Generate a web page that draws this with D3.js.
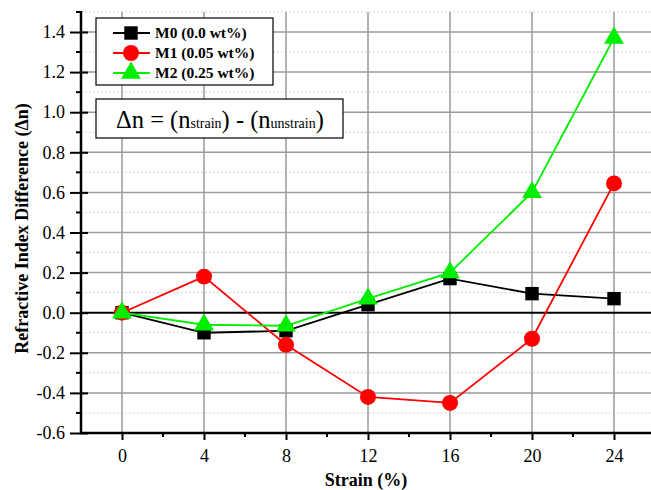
<!DOCTYPE html>
<html lang="en">
<head>
    <meta charset="UTF-8">
    <title>Refractive Index Difference vs Strain</title>
    <style>
        body { margin: 0; background: #fff; }
        svg { display: block; font-family: "Liberation Serif", "Times New Roman", serif; }
        .axis-label { font-size: 18px; font-weight: bold; }
        .legend-text { font-size: 15.5px; font-weight: bold; }
    </style>
</head>
<body>
    <div id="chart"></div>

    <script src="https://d3js.org/d3.v7.min.js"></script>
    <script>
        // Данные
        const strain = [0, 4, 8, 12, 16, 20, 24];
        const m0 = [0.0, -0.10, -0.09, 0.04, 0.17, 0.095, 0.07];
        const m1 = [0.0, 0.18, -0.16, -0.42, -0.45, -0.13, 0.645];
        const m2 = [0.0, -0.06, -0.065, 0.07, 0.20, 0.60, 1.37];
        const seriesNames = ["M0 (0.0 wt%)", "M1 (0.05 wt%)", "M2 (0.25 wt%)"];
        const xTicks = [0, 4, 8, 12, 16, 20, 24];
        const yTicks = [-0.6, -0.4, -0.2, 0.0, 0.2, 0.4, 0.6, 0.8, 1.0, 1.2, 1.4];

        const width = 651, height = 490;
        const left = 81, bottom = 433;

        const x = d3.scaleLinear().domain([-2, 26]).range([left, left + 28 * 20.5]);
        const y = d3.scaleLinear().domain([-0.6, 1.4]).range([bottom, 32]);
        const yTop = y(1.5);

        const svg = d3.select("#chart").append("svg")
            .attr("width", width)
            .attr("height", height);

        // Сетка: второстепенные горизонтальные линии (пунктир)
        const minorY = d3.range(-5, 16, 2).map(v => v / 10);
        svg.append("g").selectAll("line")
            .data(minorY)
            .enter().append("line")
            .attr("x1", left).attr("x2", width)
            .attr("y1", d => y(d)).attr("y2", d => y(d))
            .attr("stroke", "#c8c8c8")
            .attr("stroke-width", 1)
            .attr("stroke-dasharray", "1.5,2.5");

        // Основные линии сетки
        svg.append("g").selectAll("line")
            .data(yTicks.filter(d => d !== 0))
            .enter().append("line")
            .attr("x1", left).attr("x2", width)
            .attr("y1", d => y(d)).attr("y2", d => y(d))
            .attr("stroke", "#9a9a9a")
            .attr("stroke-width", 1.5);

        svg.append("g").selectAll("line")
            .data(xTicks)
            .enter().append("line")
            .attr("x1", d => x(d)).attr("x2", d => x(d))
            .attr("y1", yTop).attr("y2", bottom)
            .attr("stroke", "#9a9a9a")
            .attr("stroke-width", 1.5);

        // Линия нуля
        svg.append("line")
            .attr("x1", left).attr("x2", width)
            .attr("y1", y(0)).attr("y2", y(0))
            .attr("stroke", "#000")
            .attr("stroke-width", 2);

        // Оси
        const xAxis = svg.append("g")
            .attr("transform", `translate(0,${bottom})`)
            .call(d3.axisBottom(x).tickValues(xTicks).tickSize(7).tickPadding(9).tickFormat(d3.format("d")));
        xAxis.select(".domain").remove();
        xAxis.selectAll("line").attr("stroke-width", 2);
        xAxis.selectAll("text")
            .style("font-family", "'Liberation Serif', serif")
            .style("font-size", "18px")
            .style("fill", "#000");

        // Второстепенные деления X
        svg.append("g").selectAll("line")
            .data(d3.range(2, 26, 4))
            .enter().append("line")
            .attr("x1", d => x(d)).attr("x2", d => x(d))
            .attr("y1", bottom).attr("y2", bottom + 4)
            .attr("stroke", "#000").attr("stroke-width", 2);

        const yAxis = svg.append("g")
            .attr("transform", `translate(${left},0)`)
            .call(d3.axisLeft(y).tickValues(yTicks).tickSize(11).tickPadding(5));
        yAxis.select(".domain").remove();
        yAxis.selectAll("line").attr("stroke-width", 2).attr("x2", -11).attr("x1", 7);
        yAxis.selectAll("text")
            .style("font-family", "'Liberation Serif', serif")
            .style("font-size", "18px")
            .style("fill", "#000")
            .text(d => d3.format(".1f")(d).replace("−", "-"));

        // Второстепенные деления Y
        svg.append("g").selectAll("line")
            .data(minorY)
            .enter().append("line")
            .attr("x1", left - 5).attr("x2", left)
            .attr("y1", d => y(d)).attr("y2", d => y(d))
            .attr("stroke", "#000").attr("stroke-width", 2);

        // Линии осей
        svg.append("line")
            .attr("x1", left).attr("x2", left)
            .attr("y1", yTop - 1).attr("y2", bottom + 1)
            .attr("stroke", "#000").attr("stroke-width", 2.5);
        svg.append("line")
            .attr("x1", left).attr("x2", width)
            .attr("y1", bottom).attr("y2", bottom)
            .attr("stroke", "#000").attr("stroke-width", 2.5);

        // Подписи осей
        svg.append("text")
            .attr("class", "axis-label")
            .attr("x", 366).attr("y", 486)
            .attr("text-anchor", "middle")
            .text("Strain (%)");

        svg.append("text")
            .attr("class", "axis-label")
            .attr("transform", `translate(28,${y(0.42)}) rotate(-90)`)
            .attr("text-anchor", "middle")
            .text("Refractive Index Difference (Δn)");

        // Серии
        const series = [
            { name: seriesNames[0], values: m0, color: "#000000", symbol: d3.symbolSquare, size: 180 },
            { name: seriesNames[1], values: m1, color: "#ff0000", symbol: d3.symbolCircle, size: 200 },
            { name: seriesNames[2], values: m2, color: "#00ee00", symbol: d3.symbolTriangle, size: 170 }
        ];

        const line = d3.line()
            .x((d, i) => x(strain[i]))
            .y(d => y(d));

        series.forEach(s => {
            svg.append("path")
                .datum(s.values)
                .attr("fill", "none")
                .attr("stroke", s.color)
                .attr("stroke-width", 1.8)
                .attr("d", line);
            svg.append("g").selectAll("path")
                .data(s.values)
                .enter().append("path")
                .attr("transform", (d, i) => `translate(${x(strain[i])},${y(d)})`)
                .attr("d", d3.symbol().type(s.symbol).size(s.size))
                .attr("fill", s.color);
        });

        // Легенда
        const legend = svg.append("g");
        legend.append("rect")
            .attr("x", 96).attr("y", 18)
            .attr("width", 177).attr("height", 67)
            .attr("fill", "#fff").attr("stroke", "#000").attr("stroke-width", 1.2);

        series.forEach((s, i) => {
            const cy = 33 + i * 20;
            legend.append("line")
                .attr("x1", 113).attr("x2", 150)
                .attr("y1", cy).attr("y2", cy)
                .attr("stroke", s.color).attr("stroke-width", 1.8);
            legend.append("path")
                .attr("transform", `translate(131,${cy})`)
                .attr("d", d3.symbol().type(s.symbol).size(s.size))
                .attr("fill", s.color);
            legend.append("text")
                .attr("class", "legend-text")
                .attr("x", 155).attr("y", cy + 5)
                .text(s.name);
        });

        // Формула
        svg.append("rect")
            .attr("x", 96).attr("y", 99)
            .attr("width", 247).attr("height", 39)
            .attr("fill", "#fff").attr("stroke", "#000").attr("stroke-width", 1.2);

        const eq = svg.append("text")
            .attr("x", 116).attr("y", 128)
            .style("font-size", "24.5px");
        eq.append("tspan").text("Δn = (n");
        eq.append("tspan").style("font-size", "14px").text("strain");
        eq.append("tspan").text(") - (n");
        eq.append("tspan").style("font-size", "14px").text("unstrain");
        eq.append("tspan").text(")");
    </script>
</body>
</html>
